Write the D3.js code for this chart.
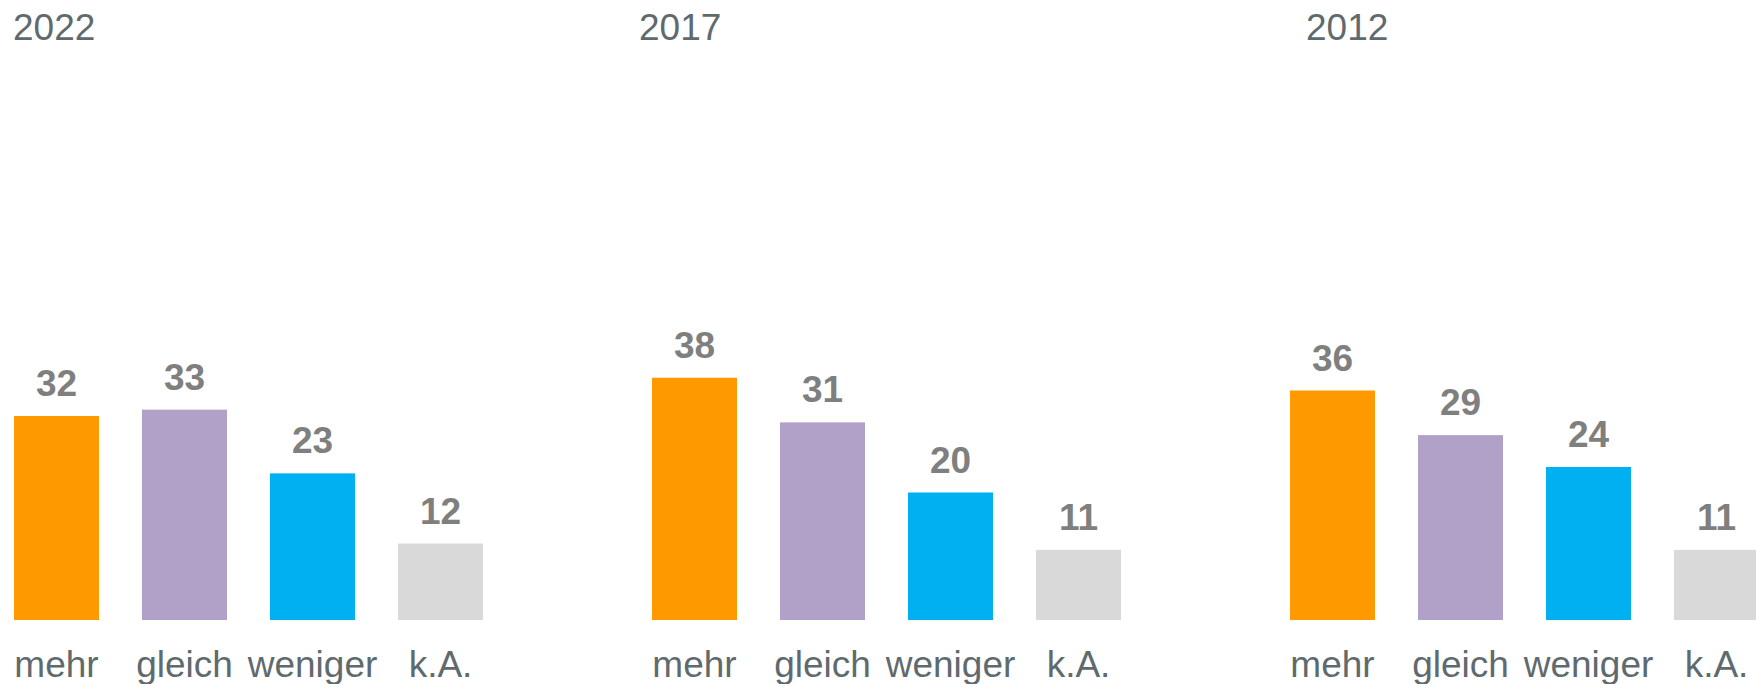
<!DOCTYPE html>
<html>
<head>
<meta charset="utf-8">
<script src="https://cdn.jsdelivr.net/npm/d3@7"></script>
<style>
  html, body { margin: 0; padding: 0; background: #fff; overflow: hidden; }
  svg { display: block; }
</style>
</head>
<body>
<svg id="chart" width="1756" height="684"></svg>
<script>
let years = ["2022", "2017", "2012"]
let categories = ["mehr", "gleich", "weniger", "k.A."]
let values2022 = [32, 33, 23, 12]
let values2017 = [38, 31, 20, 11]
let values2012 = [36, 29, 24, 11]
let colors = ["#ff9900", "#b1a0c7", "#00b0f0", "#d9d9d9"]

let seriesByYear = { "2022": values2022, "2017": values2017, "2012": values2012 }

let width = 1756
let height = 684
let baseline = 620

let svg = d3.select("#chart")

// one panel per year
let panelX = d3.scalePoint()
    .domain(years)
    .range([14, 1290])

let x = d3.scaleBand()
    .domain(categories)
    .range([0, 469])
    .paddingInner(0.336)
    .paddingOuter(0)

let y = d3.scaleLinear()
    .domain([0, 40])
    .range([baseline, baseline - 255])

let color = d3.scaleOrdinal()
    .domain(categories)
    .range(colors)

// titles are not aligned exactly with the panels
let titleShift = { "2022": 0, "2017": -12, "2012": 17 }

let panels = svg.selectAll(".panel")
    .data(years)
    .join("g")
    .attr("class", "panel")
    .attr("transform", d => `translate(${panelX(d)}, 0)`)

panels.append("text")
    .attr("x", d => titleShift[d] - 1)
    .attr("y", 40)
    .text(d => d)
    .style("font-family", "Arial, 'Liberation Sans', sans-serif")
    .style("font-size", "37px")
    .style("fill", "#5f6a6e")

let bars = panels.selectAll(".bar")
    .data(yr => seriesByYear[yr].map((v, i) => ({ cat: categories[i], value: v })))
    .join("g")
    .attr("class", "bar")

bars.append("rect")
    .attr("x", d => x(d.cat))
    .attr("width", x.bandwidth())
    .attr("y", d => y(d.value))
    .attr("height", d => y(0) - y(d.value))
    .style("fill", d => color(d.cat))

bars.append("text")
    .attr("x", d => x(d.cat) + x.bandwidth() / 2)
    .attr("y", d => y(d.value) - 20)
    .attr("text-anchor", "middle")
    .text(d => d.value)
    .style("font-family", "Arial, 'Liberation Sans', sans-serif")
    .style("font-size", "37px")
    .style("font-weight", "bold")
    .style("fill", "#7f7f7f")

// category axis, no line or ticks
panels.append("g")
    .attr("transform", `translate(0, ${baseline})`)
    .call(d3.axisBottom(x).tickSize(0))
    .call(g => g.select(".domain").remove())
    .call(g => g.selectAll("text")
        .attr("dy", null)
        .attr("y", 57)
        .style("font-family", "Arial, 'Liberation Sans', sans-serif")
        .style("font-size", "37px")
        .style("fill", "#5f6a6e"))
</script>
</body>
</html>
